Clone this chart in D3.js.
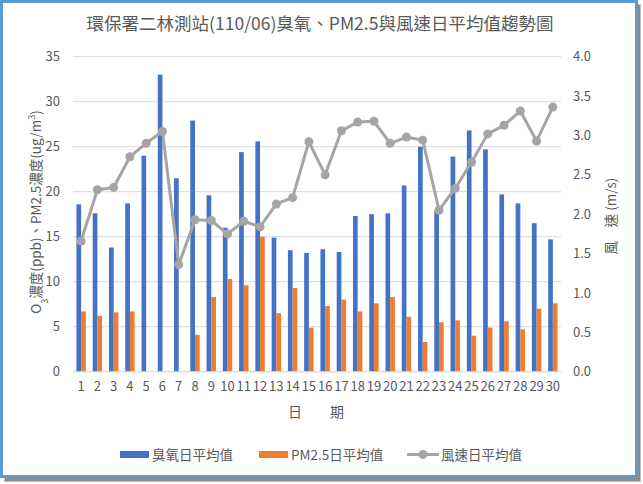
<!DOCTYPE html>
<html><head><meta charset="utf-8">
<script src="https://cdn.jsdelivr.net/npm/d3@7"></script>
<style>
body{margin:0;background:#fff;}
text{font-family:"Noto Sans CJK TC","Noto Sans",sans-serif;fill:#595959;}
</style></head>
<body><svg id="c" width="643" height="484"></svg>
<script>
const days = d3.range(1,31).map(String);
const ozone = [18.6,17.6,13.8,18.7,24.0,33.0,21.5,27.9,19.6,16.0,24.4,25.6,14.9,13.5,13.2,13.6,13.3,17.3,17.5,17.6,20.7,25.0,17.9,23.9,26.8,24.7,19.7,18.7,16.5,14.7];
const pm25 = [6.7,6.2,6.6,6.7,0,0,0,4.1,8.3,10.3,9.6,15.0,6.5,9.3,4.9,7.3,8.0,6.7,7.6,8.3,6.1,3.3,5.5,5.7,4.0,4.9,5.6,4.7,7.0,7.6];
const wind = [1.66,2.31,2.34,2.73,2.90,3.05,1.36,1.93,1.92,1.75,1.91,1.84,2.13,2.21,2.92,2.50,3.06,3.17,3.18,2.90,2.98,2.94,2.05,2.33,2.66,3.02,3.13,3.31,2.93,3.36];
const leftTicks = [0,5,10,15,20,25,30,35];
const rightTicks = [0,0.5,1,1.5,2,2.5,3,3.5,4];
const seriesNames = ["臭氧日平均值","PM2.5日平均值","風速日平均值"];
const colors = ["#4472C4","#ED7D31","#A5A5A5"];

const svg = d3.select("#c");
// shadow + frame
svg.append("rect").attr("x",4).attr("y",4).attr("width",637).attr("height",478).attr("fill","#8a8a8a").attr("opacity",0.55);
svg.append("rect").attr("x",5).attr("y",5).attr("width",635).attr("height",476).attr("fill","#555").attr("opacity",0.5);
svg.append("rect").attr("x",1.5).attr("y",1.5).attr("width",635).attr("height",475).attr("fill","#fff").attr("stroke","#5B9BD5").attr("stroke-width",3);

const L=73, R=561, T=56.7, B=371.7;
const x = d3.scaleBand().domain(days).range([L,R]);
const y = d3.scaleLinear().domain([0,35]).range([B,T]);
const y2 = d3.scaleLinear().domain([0,4]).range([B,T]);

// gridlines
svg.append("g").selectAll("line").data(leftTicks).join("line")
  .attr("x1",L).attr("x2",R).attr("y1",d=>y(d)).attr("y2",d=>y(d))
  .attr("stroke","#D9D9D9").attr("stroke-width",1);

const bw = 4.7;
svg.append("g").selectAll("rect").data(ozone).join("rect")
  .attr("x",(d,i)=>x(days[i])+x.bandwidth()/2-bw).attr("width",bw)
  .attr("y",d=>y(d)).attr("height",d=>B-y(d)).attr("fill",colors[0]);
svg.append("g").selectAll("rect").data(pm25).join("rect")
  .attr("x",(d,i)=>x(days[i])+x.bandwidth()/2).attr("width",bw)
  .attr("y",d=>y(d)).attr("height",d=>B-y(d)).attr("fill",colors[1]);

// baseline
svg.append("line").attr("x1",L).attr("x2",R).attr("y1",B).attr("y2",B).attr("stroke","#D9D9D9");

// wind line
const line = d3.line().x((d,i)=>x(days[i])+x.bandwidth()/2).y(d=>y2(d));
svg.append("path").datum(wind).attr("d",line).attr("fill","none").attr("stroke",colors[2]).attr("stroke-width",3).attr("stroke-linejoin","round");
svg.append("g").selectAll("circle").data(wind).join("circle")
  .attr("cx",(d,i)=>x(days[i])+x.bandwidth()/2).attr("cy",d=>y2(d)).attr("r",4.5).attr("fill",colors[2]);

// axes
const ax = svg.append("g").attr("transform",`translate(0,${B})`).call(d3.axisBottom(x).tickSize(0).tickPadding(10));
ax.select(".domain").remove();
ax.selectAll("text").style("font-size","13px").attr("fill","#595959").attr("font-family",'"Noto Sans CJK TC",sans-serif');

const ay = svg.append("g").attr("transform",`translate(${L},0)`).call(d3.axisLeft(y).tickValues(leftTicks).tickSize(0).tickPadding(13));
ay.select(".domain").remove();
ay.selectAll("text").style("font-size","13px").attr("fill","#595959").attr("font-family",'"Noto Sans CJK TC",sans-serif');

const ay2 = svg.append("g").attr("transform",`translate(${R},0)`).call(d3.axisRight(y2).tickValues(rightTicks).tickFormat(d3.format(".1f")).tickSize(0).tickPadding(12));
ay2.select(".domain").remove();
ay2.selectAll("text").style("font-size","13px").attr("fill","#595959").attr("font-family",'"Noto Sans CJK TC",sans-serif');

// title
svg.append("text").attr("x",320).attr("y",30).attr("text-anchor","middle").style("font-size","17.5px")
  .text("環保署二林測站(110/06)臭氧、PM2.5與風速日平均值趨勢圖");

// left axis title
const lt = svg.append("text").attr("transform","translate(41,212) rotate(-90)").attr("text-anchor","middle").style("font-size","13.5px");
lt.append("tspan").text("O");
lt.append("tspan").text("3").attr("baseline-shift","sub").style("font-size","9px");
lt.append("tspan").text("濃度(ppb)、PM2.5濃度(ug/m");
lt.append("tspan").text("3").attr("baseline-shift","super").style("font-size","9px");
lt.append("tspan").text(")");

// right axis title
svg.append("text").attr("transform","translate(616,216) rotate(-90)").attr("text-anchor","middle").style("font-size","13.5px")
  .text("風\u3000速 (m/s)");

// x title
svg.append("text").attr("x",316).attr("y",417).attr("text-anchor","middle").style("font-size","14px")
  .text("日\u3000\u3000期");

// legend
const lg = svg.append("g");
lg.append("rect").attr("x",120).attr("y",451).attr("width",29).attr("height",7).attr("fill",colors[0]);
lg.append("text").attr("x",152).attr("y",460).style("font-size","13.5px").text(seriesNames[0]);
lg.append("rect").attr("x",259).attr("y",451).attr("width",29).attr("height",7).attr("fill",colors[1]);
lg.append("text").attr("x",291).attr("y",460).style("font-size","13.5px").text(seriesNames[1]);
lg.append("line").attr("x1",407).attr("x2",439).attr("y1",454.5).attr("y2",454.5).attr("stroke",colors[2]).attr("stroke-width",3);
lg.append("circle").attr("cx",423).attr("cy",454.5).attr("r",4.5).attr("fill",colors[2]);
lg.append("text").attr("x",441).attr("y",460).style("font-size","13.5px").text(seriesNames[2]);
</script></body></html>
